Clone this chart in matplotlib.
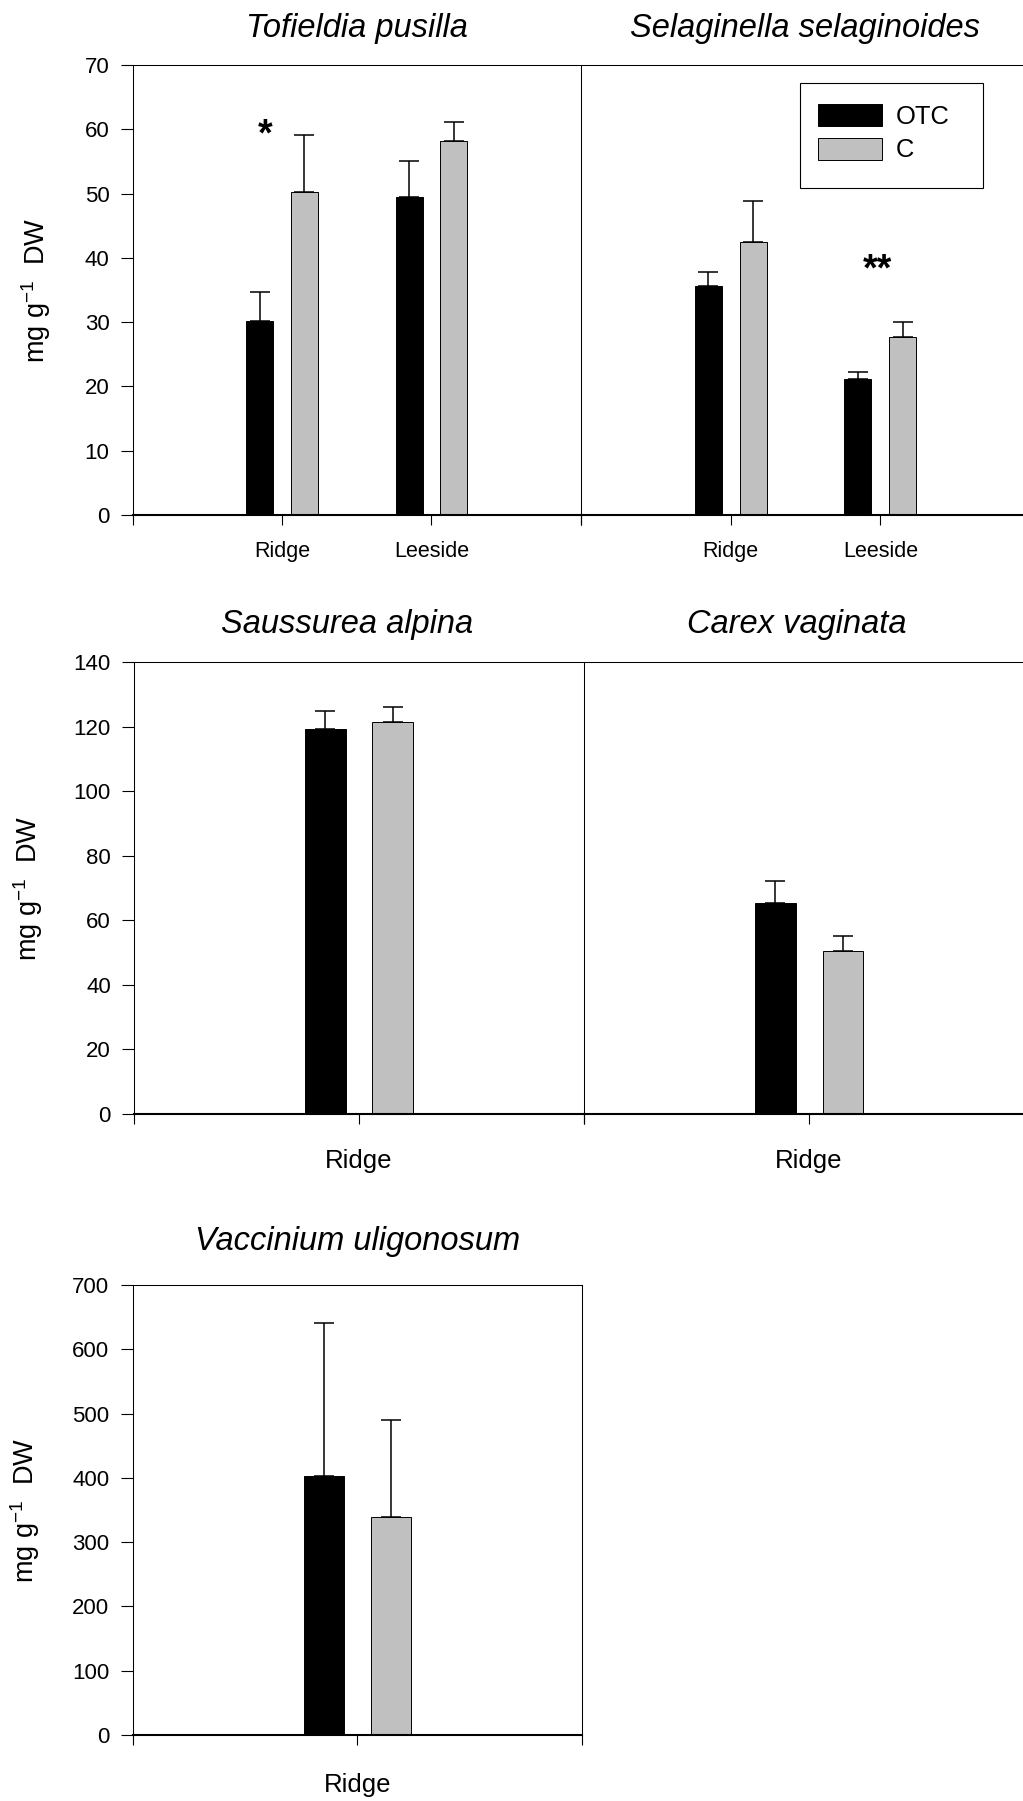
import numpy as np
import matplotlib
matplotlib.use('Agg')
import matplotlib.pyplot as plt
from matplotlib.patches import Rectangle

plt.rcParams['font.family'] = ['Liberation Sans', 'DejaVu Sans']
plt.rcParams['mathtext.fontset'] = 'custom'
plt.rcParams['mathtext.rm'] = 'Liberation Sans'
plt.rcParams['mathtext.default'] = 'regular'

# data (means and upper standard errors)
tof_sites = ['Ridge', 'Leeside']
tof_otc = [30.1, 49.4]
tof_otc_err = [4.6, 5.7]
tof_c = [50.3, 58.1]
tof_c_err = [8.8, 3.0]

sel_sites = ['Ridge', 'Leeside']
sel_otc = [35.6, 21.2]
sel_otc_err = [2.2, 1.0]
sel_c = [42.4, 27.7]
sel_c_err = [6.4, 2.3]

sau_sites = ['Ridge']
sau_otc = [119.4]
sau_otc_err = [5.4]
sau_c = [121.4]
sau_c_err = [4.6]

car_sites = ['Ridge']
car_otc = [65.2]
car_otc_err = [6.9]
car_c = [50.6]
car_c_err = [4.6]

vac_sites = ['Ridge']
vac_otc = [402.7]
vac_otc_err = [238.0]
vac_c = [339.6]
vac_c_err = [150.0]

W, H = 1023, 1801
fig = plt.figure(figsize=(W / 100, H / 100), dpi=100)


def px_axes(left, top, right, bottom):
    return fig.add_axes([left / W, 1 - bottom / H, (right - left) / W, (bottom - top) / H])


def draw(ax, sites, otc, otc_err, c, c_err, ymax, ystep, xlabsize, xpad, first=True):
    x = np.arange(1, len(sites) + 1)
    zeros = np.zeros(len(sites))
    b1 = ax.bar(x - 0.15, otc, 0.18, color='black', edgecolor='black', linewidth=0.7, zorder=2)
    b2 = ax.bar(x + 0.15, c, 0.18, color='#c0c0c0', edgecolor='black', linewidth=0.7, zorder=2)
    ax.errorbar(x - 0.15, otc, yerr=[zeros, otc_err], fmt='none', ecolor='black',
                elinewidth=1.1, capsize=7, capthick=1.1, zorder=1)
    ax.errorbar(x + 0.15, c, yerr=[zeros, c_err], fmt='none', ecolor='black',
                elinewidth=1.1, capsize=7, capthick=1.1, zorder=1)
    ax.set_xlim(0, len(sites) + 1)
    ax.set_ylim(0, ymax)
    ax.set_xticks(np.arange(0, len(sites) + 2))
    ax.set_xticklabels([''] + sites + [''])
    ax.set_yticks(np.arange(0, ymax + 1, ystep))
    ax.tick_params(axis='x', direction='out', length=7, width=0.8, labelsize=xlabsize, pad=xpad)
    ax.tick_params(axis='y', direction='out', length=8.6, width=0.8, labelsize=16, pad=8)
    for s in ['top', 'left', 'right']:
        ax.spines[s].set_linewidth(0.75)
    ax.spines['bottom'].set_linewidth(1.5)
    if not first:
        ax.set_facecolor('none')
        ax.spines['left'].set_visible(False)
        ax.tick_params(axis='y', left=False, labelleft=False)
    return b1, b2


def title(ax, text, x, y):
    ax.text(x, y, text, transform=ax.transAxes, ha='center', va='center',
            fontsize=23.5, style='italic')


ylab = r'mg g$^{-1}$  DW'

# row 1
ax_a = px_axes(132.5, 65, 581, 515)
ax_b = px_axes(581, 65, 1030, 515)
draw(ax_a, tof_sites, tof_otc, tof_otc_err, tof_c, tof_c_err, 70, 10, 15.5, 12)
h1, h2 = draw(ax_b, sel_sites, sel_otc, sel_otc_err, sel_c, sel_c_err, 70, 10, 15.5, 12, first=False)
title(ax_a, 'Tofieldia pusilla', 0.5, 1.082)
title(ax_b, 'Selaginella selaginoides', 0.5, 1.082)
ax_a.set_ylabel(ylab, fontsize=19.5)
ax_a.yaxis.set_label_coords(-0.177, 0.5)
ax_a.text(0.886, 59.0, '*', fontsize=27, fontweight='bold', ha='center', va='center')
ax_b.text(1.98, 38.1, '**', fontsize=27, fontweight='bold', ha='center', va='center')

ax_b.legend([h1, h2], ['OTC', 'C'], loc='upper left',
            bbox_to_anchor=(818 / W, 1 - 104 / H), bbox_transform=fig.transFigure,
            frameon=False, borderpad=0, fontsize=18.4, handlelength=2.5,
            handleheight=0.94, handletextpad=0.55, labelspacing=0.35, borderaxespad=0)
fig.add_artist(Rectangle((800 / W, 1 - 188 / H), 183 / W, 105 / H,
                         transform=fig.transFigure, fill=False, lw=0.8, ec='black'))

# row 2
ax_c = px_axes(134, 662, 584, 1114)
ax_d = px_axes(584, 662, 1034, 1114)
draw(ax_c, sau_sites, sau_otc, sau_otc_err, sau_c, sau_c_err, 140, 20, 18.5, 18)
draw(ax_d, car_sites, car_otc, car_otc_err, car_c, car_c_err, 140, 20, 18.5, 18, first=False)
title(ax_c, 'Saussurea alpina', 0.473, 1.082)
title(ax_d, 'Carex vaginata', 0.473, 1.082)
ax_c.set_ylabel(ylab, fontsize=19.5)
ax_c.yaxis.set_label_coords(-0.198, 0.5)

# row 3
ax_e = px_axes(132.5, 1285, 582.5, 1735)
draw(ax_e, vac_sites, vac_otc, vac_otc_err, vac_c, vac_c_err, 700, 100, 18.5, 20)
title(ax_e, 'Vaccinium uligonosum', 0.5, 1.096)
ax_e.set_ylabel(ylab, fontsize=19.5)
ax_e.yaxis.set_label_coords(-0.201, 0.5)

fig.savefig('out.png', dpi=100)
